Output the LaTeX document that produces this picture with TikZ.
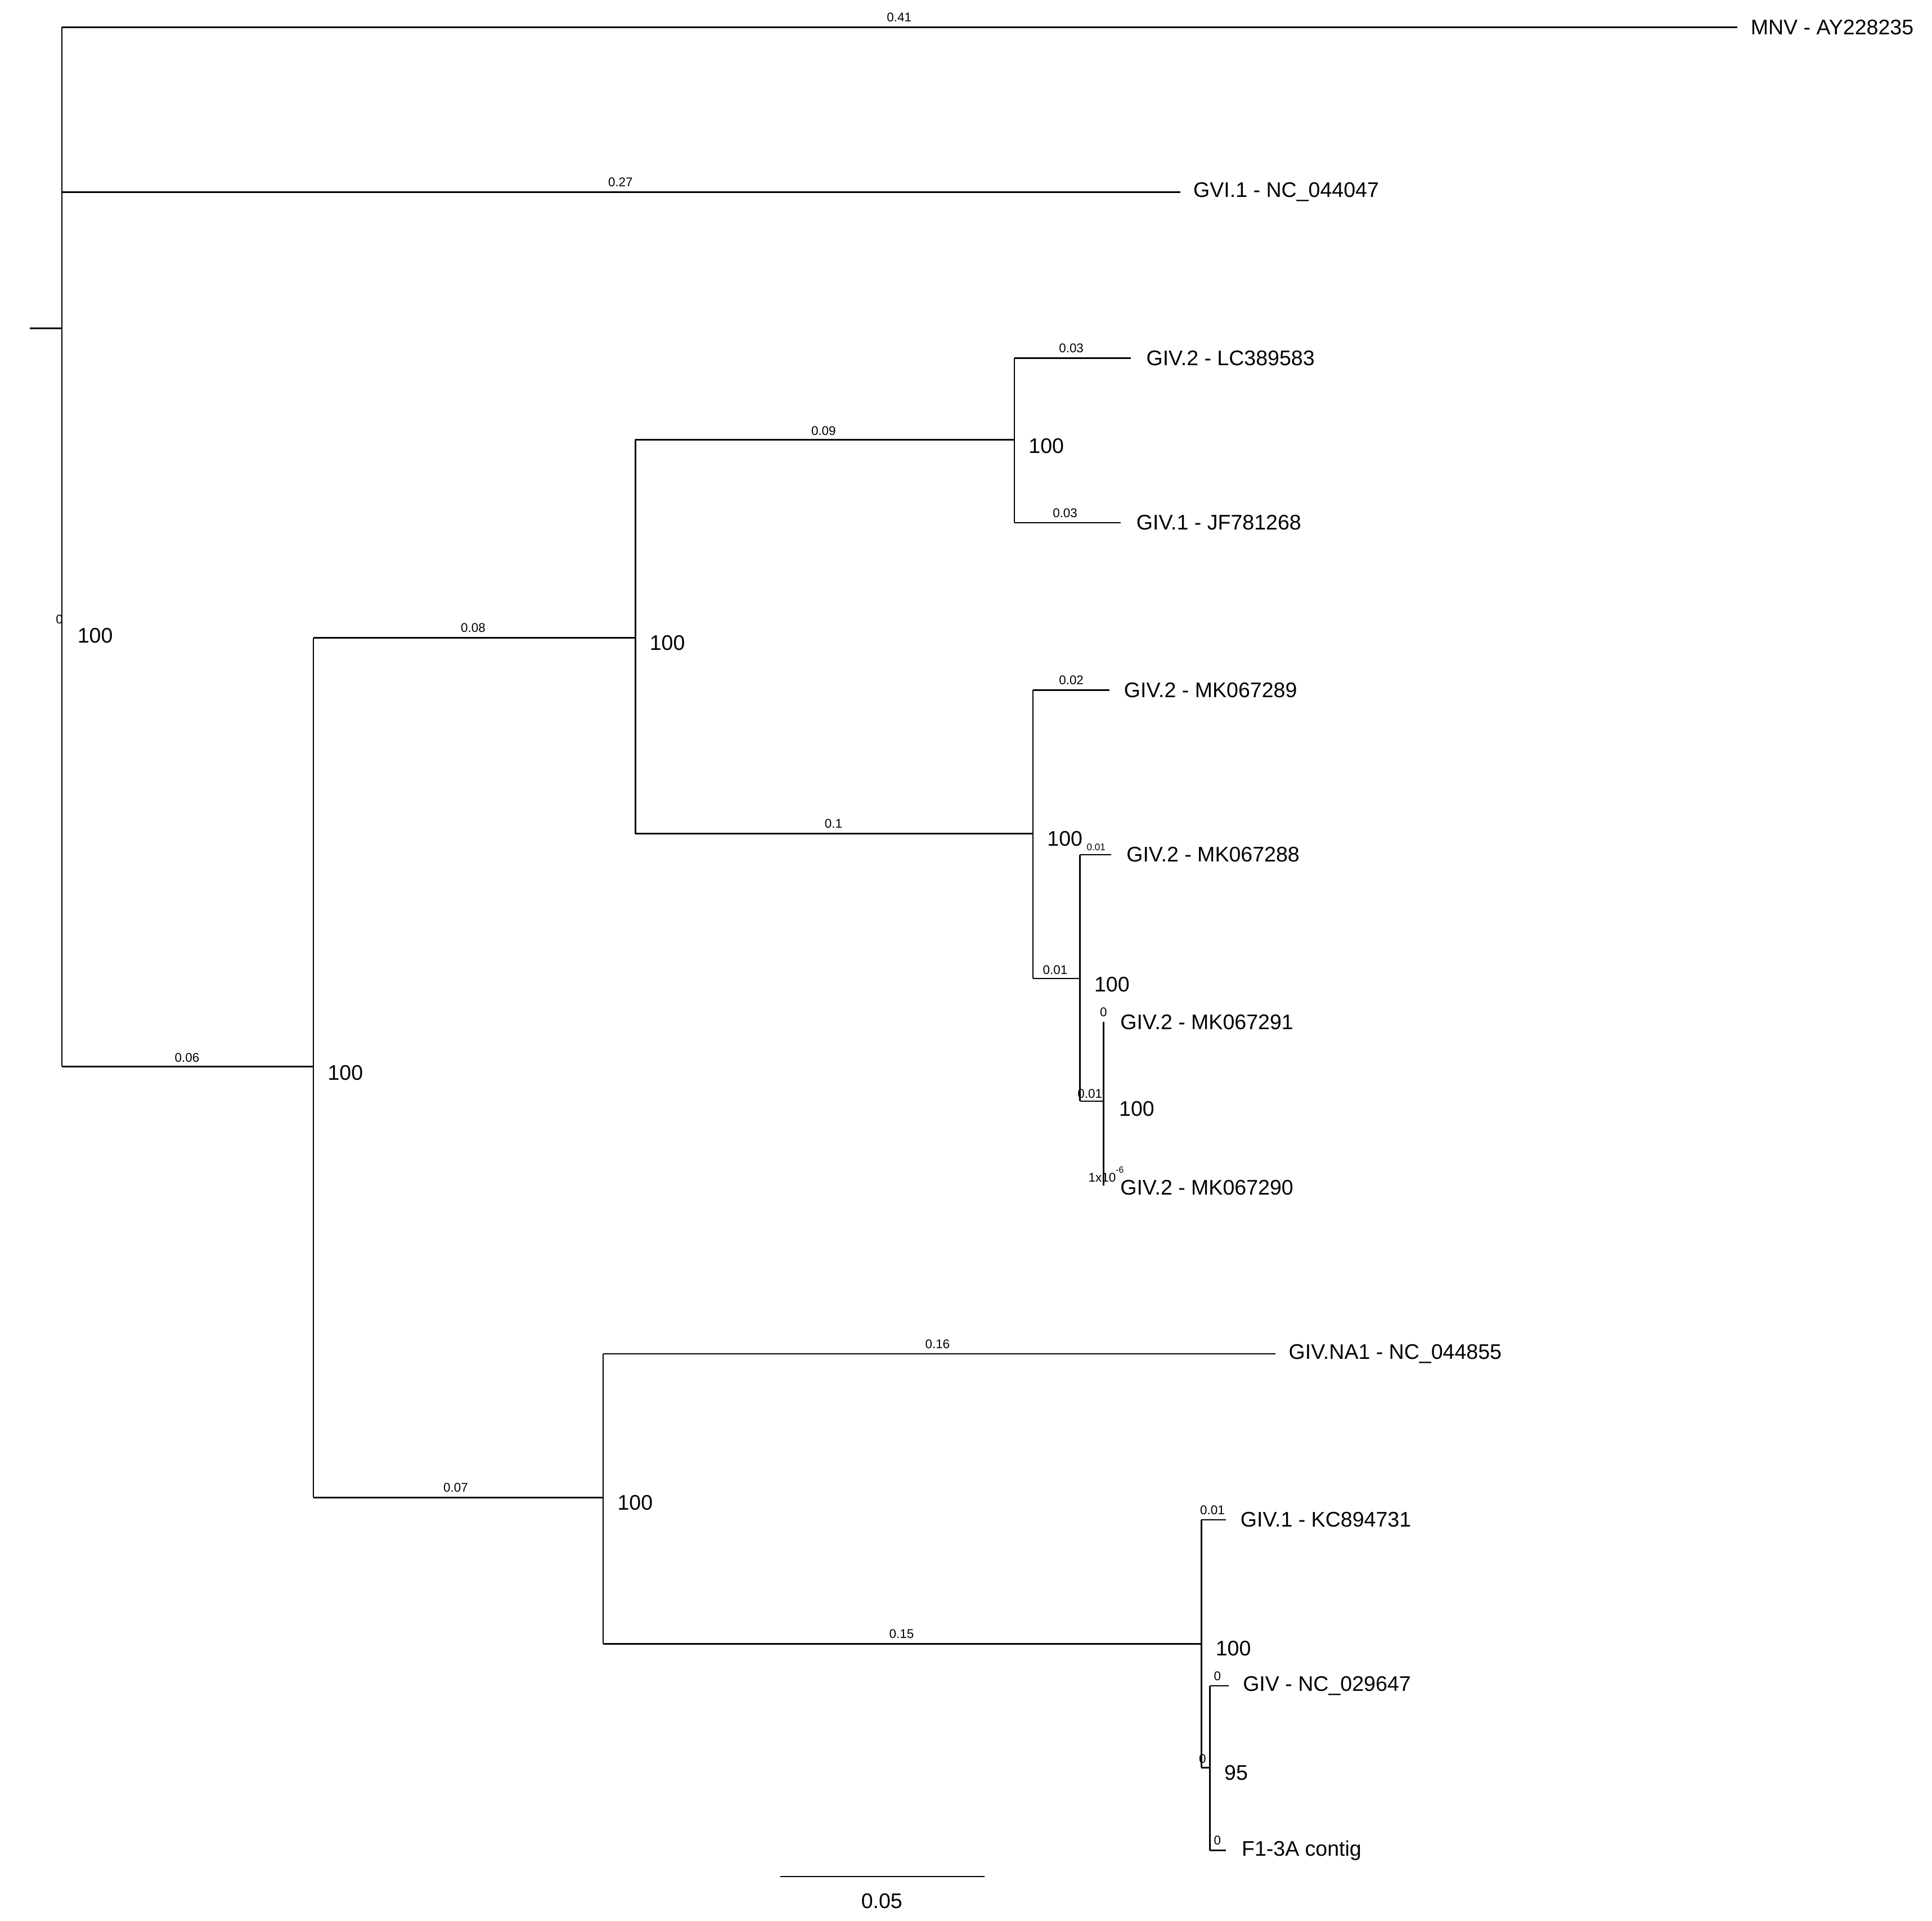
\documentclass[tikz,border=0pt]{standalone}
\usepackage{fontspec}
\setmainfont{Liberation Sans}
\begin{document}
\begin{tikzpicture}[x=0.01cm,y=-0.01cm,line width=0.35pt,
  tx/.style={anchor=west,inner sep=0pt,font=\fontsize{4.85}{6}\selectfont},
  bl/.style={inner sep=0pt,font=\fontsize{2.9}{3.5}\selectfont}]
\useasboundingbox (0,0) rectangle (1560,1550.5);
% root
\coordinate (r0) at (24,265); \coordinate (r) at (50,265);
\draw (r0) -- (r);
\draw (50,22) -- (50,861);
% MNV
\node[tx] (mnv) at (1413,22) {MNV - AY228235};
\draw (50,22) -- (1403,22); \node[bl] (b1) at (726,14) {0.41};
\node[tx] (gvi) at (963,155) {GVI.1 - NC\_044047};
\draw (50,155) -- (953,155); \node[bl] (b2) at (501,147) {0.27};
\node[bl] (b0) at (48,500) {0};
\node[tx] (s0) at (62,513) {100};
% main clade
\draw (50,861) -- (253,861); \node[bl] (b3) at (151,854) {0.06};
\node[tx] (s1) at (264,866) {100};
\draw (253,515) -- (253,1209);
\draw (253,515) -- (513,515); \node[bl] (b4) at (382,507) {0.08};
\node[tx] (s2) at (524,519) {100};
\draw (513,355) -- (513,673);
\draw (513,355) -- (819,355); \node[bl] (b5) at (665,348) {0.09};
\node[tx] (s3) at (830,360) {100};
\draw (819,289) -- (819,422);
\draw (819,289) -- (913,289); \node[bl] at (865,281) {0.03};
\node[tx] (l1) at (925,289) {GIV.2 - LC389583};
\draw (819,422) -- (905,422); \node[bl] at (860,414) {0.03};
\node[tx] (l2) at (917,422) {GIV.1 - JF781268};
\draw (513,673) -- (834,673); \node[bl] at (673,665) {0.1};
\node[tx] (s4) at (845,677) {100};
\draw (834,557) -- (834,790);
\draw (834,557) -- (896,557); \node[bl] at (865,549) {0.02};
\node[tx] (l3) at (907,557) {GIV.2 - MK067289};
\draw (834,790) -- (872,790); \node[bl] at (852,783) {0.01};
\node[tx] (s5) at (883,795) {100};
\draw (872,690) -- (872,889);
\draw (872,690) -- (897,690); \node[bl,font=\fontsize{2.2}{2.6}\selectfont] at (885,684) {0.01};
\node[tx] (l4) at (909,690) {GIV.2 - MK067288};
\draw (872,889) -- (891,889); \node[bl] at (880,883) {0.01};
\node[tx] (s6) at (903,895) {100};
\draw (891,825) -- (891,957);
\node[bl] at (891,817) {0};
\node[tx] (l5) at (904,825) {GIV.2 - MK067291};
\node[bl] at (894,948) {1x10\textsuperscript{-6}};
\node[tx] (l6) at (904,959) {GIV.2 - MK067290};
% lower clade
\draw (253,1209) -- (487,1209); \node[bl] at (368,1201) {0.07};
\node[tx] (s7) at (498,1213) {100};
\draw (487,1093) -- (487,1327);
\draw (487,1093) -- (1030,1093); \node[bl] at (757,1085) {0.16};
\node[tx] (l7) at (1040,1093) {GIV.NA1 - NC\_044855};
\draw (487,1327) -- (970,1327); \node[bl] at (728,1319) {0.15};
\node[tx] (s8) at (981,1331) {100};
\draw (970,1227) -- (970,1427);
\draw (970,1227) -- (990,1227); \node[bl] at (979,1219) {0.01};
\node[tx] (l8) at (1001,1227) {GIV.1 - KC894731};
\draw (970,1427) -- (977,1427); \node[bl] at (971,1420) {0};
\node[tx] (s9) at (988,1431) {95};
\draw (977,1361) -- (977,1494);
\draw (977,1361) -- (992,1361); \node[bl] at (983,1353) {0};
\node[tx] (l9) at (1003,1361) {GIV - NC\_029647};
\draw (977,1494) -- (990,1494); \node[bl] at (983,1486) {0};
\node[tx] (l10) at (1002,1494) {F1-3A contig};
% scale
\draw (630,1515) -- (795,1515);
\node[inner sep=0pt,font=\fontsize{4.85}{6}\selectfont] (sc) at (712,1535) {0.05};
\end{tikzpicture}
\end{document}
